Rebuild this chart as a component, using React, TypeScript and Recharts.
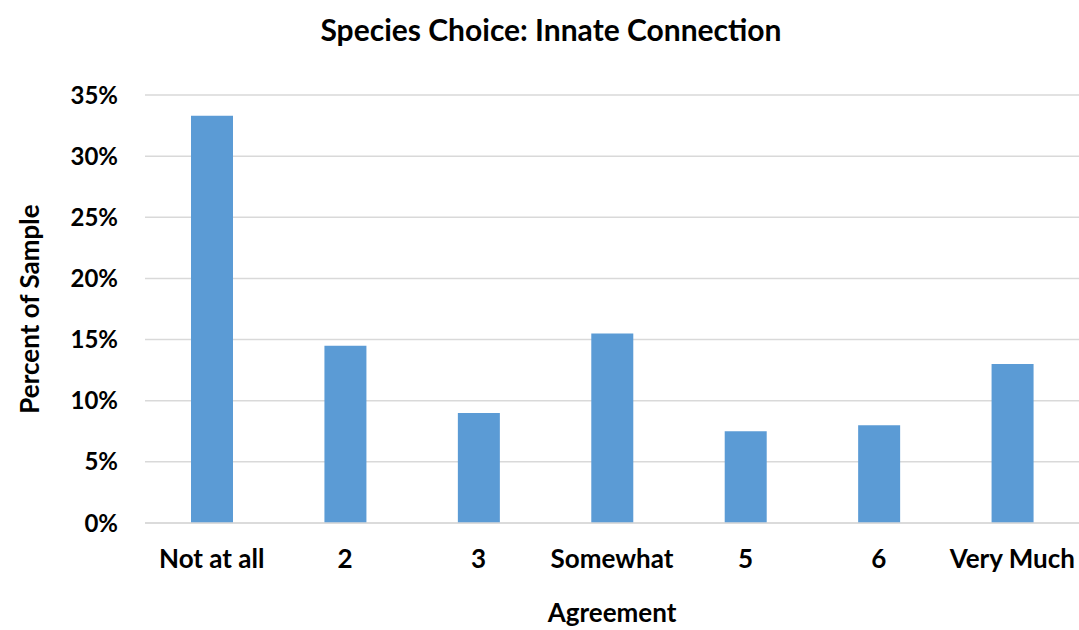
import React from 'react';
import { BarChart, Bar, XAxis, YAxis, CartesianGrid } from 'recharts';

const categories = ['Not at all', '2', '3', 'Somewhat', '5', '6', 'Very Much'];
const percents = [33.3, 14.5, 9.0, 15.5, 7.5, 8.0, 13.0];
const yTicks = [0, 5, 10, 15, 20, 25, 30, 35];

const data = categories.map((c, i) => ({ category: c, value: percents[i] }));

const FONT = 'Lato, "Open Sans", sans-serif';

export default function App() {
  return (
    <div style={{ position: 'absolute', left: 0, top: 0, width: 1079, height: 630, background: '#fff', fontFamily: FONT }}>
      <div
        style={{
          position: 'absolute',
          left: 0,
          top: 10,
          width: 1102,
          textAlign: 'center',
          fontSize: 30,
          lineHeight: '38px',
          fontWeight: 700,
          color: '#000',
          fontFamily: FONT,
        }}
      >
        Species Choice: Innate Connection
      </div>
      <BarChart
        width={1079}
        height={630}
        data={data}
        margin={{ top: 95, right: 0, left: 0, bottom: 0 }}
      >
        <CartesianGrid vertical={false} stroke="#d9d9d9" strokeWidth={1.5} />
        <XAxis
          dataKey="category"
          height={107}
          tickLine={false}
          axisLine={{ stroke: '#d9d9d9', strokeWidth: 1.5 }}
          tickMargin={27}
          tickSize={0}
          interval={0}
          tick={{ fill: '#000', fontSize: 26, fontWeight: 700, fontFamily: FONT }}
          label={{
            value: 'Agreement',
            position: 'insideBottom',
            offset: 8,
            style: { fill: '#000', fontSize: 26, fontWeight: 700, fontFamily: FONT },
          }}
        />
        <YAxis
          width={145}
          domain={[0, 35]}
          ticks={yTicks}
          tickFormatter={(v: number) => `${v}%`}
          tickLine={false}
          axisLine={false}
          tickSize={0}
          tickMargin={27}
          tick={{ fill: '#000', fontSize: 24, fontWeight: 700, fontFamily: FONT }}
          label={{
            value: 'Percent of Sample',
            angle: -90,
            position: 'insideLeft',
            offset: 30,
            style: { fill: '#000', fontSize: 26, fontWeight: 700, fontFamily: FONT, textAnchor: 'middle' },
          }}
        />
        <Bar dataKey="value" fill="#5b9bd5" barSize={42} isAnimationActive={false} />
      </BarChart>
    </div>
  );
}
